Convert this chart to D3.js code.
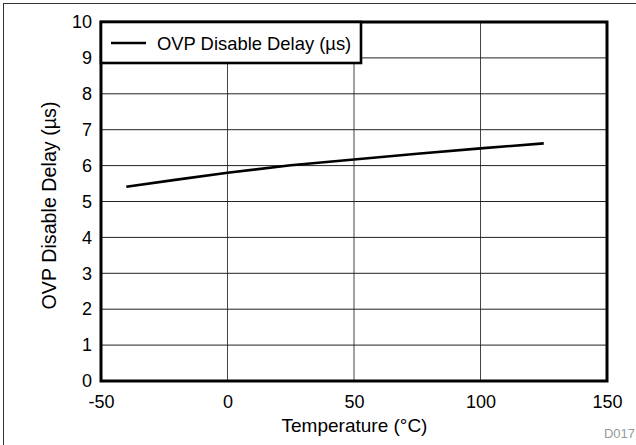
<!DOCTYPE html>
<html><head><meta charset="utf-8">
<script src="https://cdn.jsdelivr.net/npm/d3@7"></script>
<style>body{margin:0;background:#fff}svg{display:block}text{font-family:"Liberation Sans",Arial,Helvetica,sans-serif}</style>
</head><body><svg id="c" width="636" height="445"></svg>
<script>
const temps = [-40, -20, 0, 25, 50, 75, 100, 125];
const delay = [5.41, 5.61, 5.80, 6.01, 6.17, 6.33, 6.48, 6.62];
const xTicks = [-50, 0, 50, 100, 150];
const yTicks = [0, 1, 2, 3, 4, 5, 6, 7, 8, 9, 10];
const seriesName = "OVP Disable Delay (\u00b5s)";
const xTitle = "Temperature (\u00b0C)";
const yTitle = "OVP Disable Delay (\u00b5s)";

const svg = d3.select("#c");
const L = 101, R = 607, T = 22, B = 381;
const x = d3.scaleLinear().domain([-50, 150]).range([L, R]);
const y = d3.scaleLinear().domain([0, 10]).range([B, T]);
const fmt = d => String(d);

svg.append("rect").attr("x", 3.5).attr("y", 3.5).attr("width", 640).attr("height", 450)
  .attr("fill", "none").attr("stroke", "#333").attr("stroke-width", 1);

// grid
svg.append("g").selectAll("line").data(xTicks.slice(1, -1)).join("line")
  .attr("x1", d => x(d)).attr("x2", d => x(d)).attr("y1", T).attr("y2", B)
  .attr("stroke", "#444").attr("stroke-width", 1);
svg.append("g").selectAll("line").data(yTicks.slice(1, -1)).join("line")
  .attr("y1", d => y(d)).attr("y2", d => y(d)).attr("x1", L).attr("x2", R)
  .attr("stroke", "#222").attr("stroke-width", 1);

// axes (labels only)
const xAxis = svg.append("g").attr("transform", `translate(0,${B})`)
  .call(d3.axisBottom(x).tickValues(xTicks).tickSize(0).tickPadding(14).tickFormat(fmt));
xAxis.select(".domain").remove();
xAxis.selectAll("text").attr("font-size", 18).attr("fill", "#000").attr("font-family", "Liberation Sans, Arial, sans-serif");
const yAxis = svg.append("g").attr("transform", `translate(${L},0)`)
  .call(d3.axisLeft(y).tickValues(yTicks).tickSize(0).tickPadding(9).tickFormat(fmt));
yAxis.select(".domain").remove();
yAxis.selectAll("text").attr("font-size", 18).attr("fill", "#000").attr("font-family", "Liberation Sans, Arial, sans-serif");

// data line
svg.append("path").datum(temps.map((t, i) => [t, delay[i]]))
  .attr("d", d3.line().x(d => x(d[0])).y(d => y(d[1])))
  .attr("fill", "none").attr("stroke", "#000").attr("stroke-width", 2.6);

// plot frame
svg.append("rect").attr("x", L).attr("y", T).attr("width", R - L).attr("height", B - T)
  .attr("fill", "none").attr("stroke", "#000").attr("stroke-width", 3);

// legend
const lg = svg.append("g");
lg.append("rect").attr("x", L).attr("y", T).attr("width", 260).attr("height", 41)
  .attr("fill", "#fff").attr("stroke", "#000").attr("stroke-width", 2.6);
lg.append("line").attr("x1", 111).attr("x2", 146).attr("y1", 43).attr("y2", 43)
  .attr("stroke", "#000").attr("stroke-width", 2.6);
lg.append("text").attr("x", 157).attr("y", 50).attr("font-size", 18.4).text(seriesName);

// titles
svg.append("text").attr("x", 354.5).attr("y", 431.5).attr("text-anchor", "middle")
  .attr("font-size", 19).text(xTitle);
svg.append("text").attr("transform", "translate(56,205.5) rotate(-90)").attr("text-anchor", "middle")
  .attr("font-size", 19.7).text(yTitle);
svg.append("text").attr("x", 635).attr("y", 438).attr("text-anchor", "end")
  .attr("font-size", 13).attr("fill", "#999").text("D017");
</script></body></html>
